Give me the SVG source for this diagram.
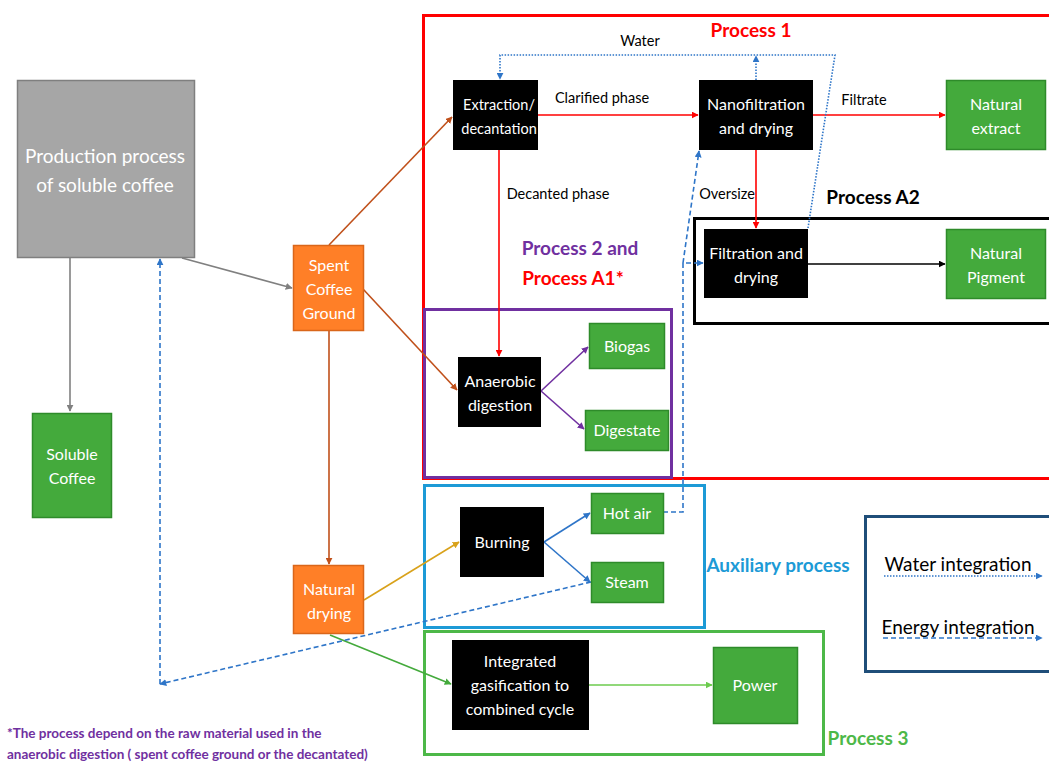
<svg xmlns="http://www.w3.org/2000/svg" width="1049" height="763" viewBox="0 0 1049 763">
<style>
text{font-family:Lato,"Open Sans","Liberation Sans",sans-serif;}
.w{fill:#fff;font-size:16px;text-anchor:middle;}
.ws{fill:#fff;font-size:14.5px;text-anchor:middle;}
.wb{fill:#fff;font-size:19px;text-anchor:middle;}
.lbl{fill:#000;font-size:14.5px;}
.blk{fill:#000;}
.grn{fill:#44AA3C;stroke:#2E8B2A;stroke-width:1.5;}
.org{fill:#FF7F27;stroke:#D9661A;stroke-width:1.5;}
.title{font-size:19px;font-weight:bold;}
.ln{fill:none;stroke-width:1.6;}
.en{fill:none;stroke:#2E75C8;stroke-width:1.6;stroke-dasharray:5,3;}
.wa{fill:none;stroke:#2E75C8;stroke-width:1.6;stroke-dasharray:1.5,1.5;}
</style>
<defs>
<marker id="aR" viewBox="0 0 10 10" refX="9" refY="5" markerWidth="7" markerHeight="7" orient="auto-start-reverse" markerUnits="userSpaceOnUse"><path d="M0,0L10,5L0,10z" fill="#FF0000"/></marker>
<marker id="aBr" viewBox="0 0 10 10" refX="9" refY="5" markerWidth="7" markerHeight="7" orient="auto" markerUnits="userSpaceOnUse"><path d="M0,0L10,5L0,10z" fill="#C0501A"/></marker>
<marker id="aG" viewBox="0 0 10 10" refX="9" refY="5" markerWidth="7" markerHeight="7" orient="auto" markerUnits="userSpaceOnUse"><path d="M0,0L10,5L0,10z" fill="#808080"/></marker>
<marker id="aP" viewBox="0 0 10 10" refX="9" refY="5" markerWidth="7" markerHeight="7" orient="auto" markerUnits="userSpaceOnUse"><path d="M0,0L10,5L0,10z" fill="#7030A0"/></marker>
<marker id="aB" viewBox="0 0 10 10" refX="9" refY="5" markerWidth="7" markerHeight="7" orient="auto" markerUnits="userSpaceOnUse"><path d="M0,0L10,5L0,10z" fill="#2E75C8"/></marker>
<marker id="aK" viewBox="0 0 10 10" refX="9" refY="5" markerWidth="7" markerHeight="7" orient="auto" markerUnits="userSpaceOnUse"><path d="M0,0L10,5L0,10z" fill="#000"/></marker>
<marker id="aY" viewBox="0 0 10 10" refX="9" refY="5" markerWidth="7" markerHeight="7" orient="auto" markerUnits="userSpaceOnUse"><path d="M0,0L10,5L0,10z" fill="#D9A21B"/></marker>
<marker id="aGr" viewBox="0 0 10 10" refX="9" refY="5" markerWidth="7" markerHeight="7" orient="auto" markerUnits="userSpaceOnUse"><path d="M0,0L10,5L0,10z" fill="#44AA3C"/></marker>
<marker id="aLG" viewBox="0 0 10 10" refX="9" refY="5" markerWidth="7" markerHeight="7" orient="auto" markerUnits="userSpaceOnUse"><path d="M0,0L10,5L0,10z" fill="#6CCB4E"/></marker>
</defs>

<g id="frames">
<rect x="423.5" y="15.5" width="630" height="463" fill="none" stroke="#FF0000" stroke-width="3"/>
<rect x="694.5" y="218.5" width="360" height="105" fill="none" stroke="#000" stroke-width="3"/>
<rect x="424.5" y="309.5" width="247" height="168" fill="none" stroke="#7030A0" stroke-width="3"/>
<rect x="424.5" y="485.5" width="280" height="142" fill="none" stroke="#1C9AD6" stroke-width="3"/>
<rect x="424.5" y="631.5" width="399" height="123" fill="none" stroke="#4DB848" stroke-width="3"/>
<rect x="865.5" y="516.5" width="190" height="155" fill="none" stroke="#1F4E79" stroke-width="3"/>
<text x="751" y="37" class="title" fill="#FF0000" text-anchor="middle">Process 1</text>
<text x="873" y="204" class="title" fill="#000" text-anchor="middle">Process A2</text>
<text x="580" y="255" class="title" fill="#7030A0" text-anchor="middle">Process 2 and</text>
<text x="573" y="285" class="title" fill="#FF0000" text-anchor="middle">Process A1*</text>
<text x="778" y="572" font-size="19" font-weight="bold" fill="#1C9AD6" text-anchor="middle">Auxiliary process</text>
<text x="868" y="745" class="title" fill="#4DB848" text-anchor="middle">Process 3</text>
</g>

<g id="connectors">
<path class="ln" stroke="#808080" d="M70,257V411" marker-end="url(#aG)"/>
<path class="ln" stroke="#808080" d="M182,258L292,288" marker-end="url(#aG)"/>
<path class="ln" stroke="#C0501A" d="M329,245L452,117" marker-end="url(#aBr)"/>
<path class="ln" stroke="#C0501A" d="M363,289L457,390" marker-end="url(#aBr)"/>
<path class="ln" stroke="#C0501A" d="M329,331V564" marker-end="url(#aBr)"/>
<path class="ln" stroke="#FF0000" d="M538,115H698" marker-end="url(#aR)"/>
<path class="ln" stroke="#FF0000" d="M813,115H945" marker-end="url(#aR)"/>
<path class="ln" stroke="#FF0000" d="M499,150V356" marker-end="url(#aR)"/>
<path class="ln" stroke="#FF0000" d="M756,150V228" marker-end="url(#aR)"/>
<path class="ln" stroke="#000" d="M808,264H945" marker-end="url(#aK)"/>
<path class="ln" stroke="#7030A0" d="M541,391L588,347" marker-end="url(#aP)"/>
<path class="ln" stroke="#7030A0" d="M541,391L584,429" marker-end="url(#aP)"/>
<path class="ln" stroke="#D9A21B" d="M364,600L459,542" marker-end="url(#aY)"/>
<path class="ln" stroke="#2E75C8" d="M544,542L590,513" marker-end="url(#aB)"/>
<path class="ln" stroke="#2E75C8" d="M544,542L590,582" marker-end="url(#aB)"/>
<path class="ln" stroke="#44AA3C" d="M330,635L451,684" marker-end="url(#aGr)"/>
<path class="ln" stroke="#6CCB4E" d="M589,685H712" marker-end="url(#aLG)"/>
<path class="wa" d="M808,228L835,55H500V79" marker-end="url(#aB)"/>
<path class="wa" d="M756,80V56" marker-end="url(#aB)"/>
<path class="en" d="M663,512H683V263H703" marker-end="url(#aB)"/>
<path class="en" d="M683,263L699,151" marker-end="url(#aB)"/>
<path class="en" d="M591,582L160,684" marker-end="url(#aB)"/>
<path class="en" d="M160,684V259" marker-end="url(#aB)"/>
<path class="wa" d="M884,576H1042" marker-end="url(#aB)"/>
<path class="en" d="M883,638H1042" marker-end="url(#aB)"/>
<text x="640" y="46" class="lbl" text-anchor="middle">Water</text>
<text x="602" y="103" class="lbl" text-anchor="middle">Clarified phase</text>
<text x="864" y="105" class="lbl" text-anchor="middle">Filtrate</text>
<text x="558" y="199" class="lbl" text-anchor="middle">Decanted phase</text>
<text x="727" y="199" class="lbl" text-anchor="middle">Oversize</text>
</g>

<g id="production"><rect x="17.5" y="80.5" width="177" height="177" fill="#A6A6A6" stroke="#7F7F7F" stroke-width="1.5"/>
<text x="105" y="163" class="wb">Production process</text><text x="105" y="192" class="wb">of soluble coffee</text></g>
<g id="soluble"><rect x="32.5" y="413.5" width="79" height="104" class="grn"/>
<text x="72" y="460" class="w">Soluble</text><text x="72" y="484" class="w">Coffee</text></g>
<g id="spent"><rect x="293.5" y="245.5" width="70" height="85" class="org"/>
<text x="329" y="271" class="w">Spent</text><text x="329" y="295" class="w">Coffee</text><text x="329" y="319" class="w">Ground</text></g>
<g id="drying"><rect x="293.5" y="565.5" width="70" height="68" class="org"/>
<text x="329" y="595" class="w">Natural</text><text x="329" y="619" class="w">drying</text></g>
<g id="extraction"><rect x="453" y="80" width="85" height="70" class="blk"/>
<text x="499" y="110" class="ws">Extraction/</text><text x="499" y="134" class="ws">decantation</text></g>
<g id="nanofiltration"><rect x="699" y="80" width="114" height="70" class="blk"/>
<text x="756" y="110" class="w">Nanofiltration</text><text x="756" y="134" class="w">and drying</text></g>
<g id="extract"><rect x="946.5" y="80.5" width="99" height="69" class="grn"/>
<text x="996" y="110" class="w">Natural</text><text x="996" y="134" class="w">extract</text></g>
<g id="filtration"><rect x="704" y="229" width="104" height="69" class="blk"/>
<text x="756" y="259" class="w">Filtration and</text><text x="756" y="283" class="w">drying</text></g>
<g id="pigment"><rect x="946.5" y="229.5" width="99" height="69" class="grn"/>
<text x="996" y="259" class="w">Natural</text><text x="996" y="283" class="w">Pigment</text></g>
<g id="anaerobic"><rect x="458" y="357" width="83" height="70" class="blk"/>
<text x="500" y="387" class="w">Anaerobic</text><text x="500" y="411" class="w">digestion</text></g>
<g id="biogas"><rect x="589.5" y="323.5" width="75" height="45" class="grn"/>
<text x="627" y="352" class="w">Biogas</text></g>
<g id="digestate"><rect x="585.5" y="410.5" width="83" height="40" class="grn"/>
<text x="627" y="436" class="w">Digestate</text></g>
<g id="burning"><rect x="460" y="507" width="84" height="70" class="blk"/>
<text x="502" y="548" class="w">Burning</text></g>
<g id="hotair"><rect x="591.5" y="493.5" width="72" height="40" class="grn"/>
<text x="627" y="519" class="w">Hot air</text></g>
<g id="steam"><rect x="591.5" y="562.5" width="72" height="40" class="grn"/>
<text x="627" y="588" class="w">Steam</text></g>
<g id="igcc"><rect x="452" y="640" width="137" height="90" class="blk"/>
<text x="520" y="667" class="w">Integrated</text><text x="520" y="691" class="w">gasification to</text><text x="520" y="715" class="w">combined cycle</text></g>
<g id="power"><rect x="713.5" y="647.5" width="84" height="76" class="grn"/>
<text x="755" y="691" class="w">Power</text></g>

<g id="legend">
<text x="958" y="571" font-size="19" fill="#000" text-anchor="middle">Water integration</text>
<text x="958" y="634" font-size="19" fill="#000" text-anchor="middle">Energy integration</text>
</g>
<g id="footnote">
<text x="7" y="738" font-size="13.5" font-weight="bold" fill="#7030A0">*The process depend on the raw material used in the</text>
<text x="7" y="759" font-size="13.5" font-weight="bold" fill="#7030A0">anaerobic digestion ( spent coffee ground or the decantated)</text>
</g>
</svg>
